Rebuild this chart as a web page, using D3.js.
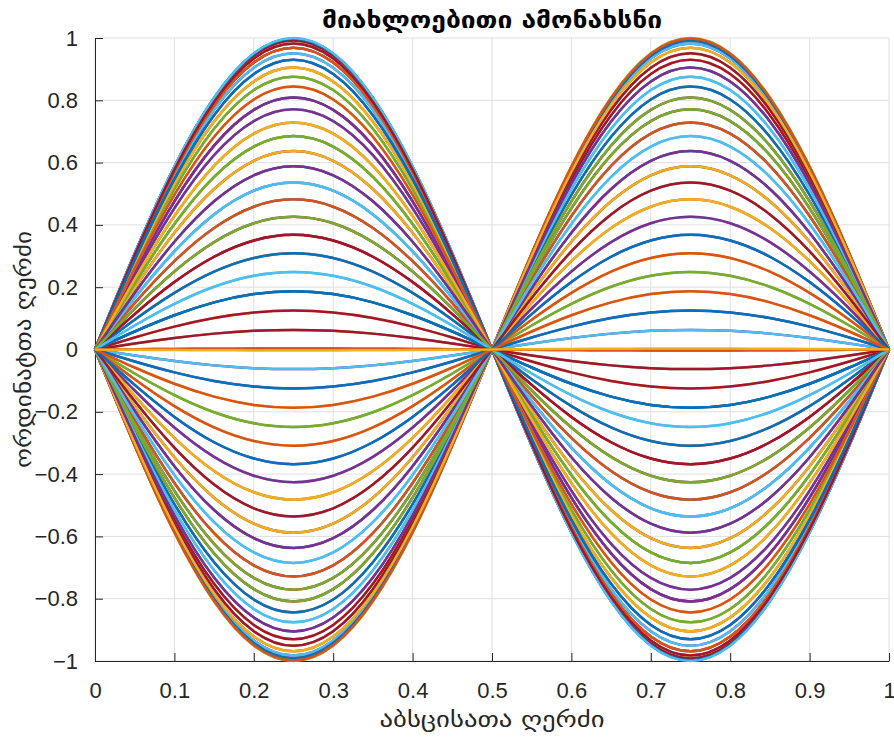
<!DOCTYPE html>
<html>
<head>
<meta charset="utf-8">
<script src="https://cdnjs.cloudflare.com/ajax/libs/d3/7.8.5/d3.min.js"></script>
<style>
    body { margin: 0; background: #fff; }
    text { font-family: "Liberation Sans", Arial, Helvetica, sans-serif; fill: #262626; }
    .geo { font-family: "DejaVu Sans", sans-serif; }
</style>
</head>
<body>
<div id="svgcontainer"></div>
<script>

var width = 894;
var height = 743;
var plot = {left: 95, right: 889, top: 38, bottom: 661};

// shape of the outermost curve, read at x = 0, 0.05, ... 1
var xGrid = [0, 0.05, 0.1, 0.15, 0.2, 0.25, 0.3, 0.35, 0.4, 0.45, 0.5,
    0.55, 0.6, 0.65, 0.7, 0.75, 0.8, 0.85, 0.9, 0.95, 1];
var profile = [0, 0.309, 0.588, 0.809, 0.951, 1, 0.951, 0.809, 0.588, 0.309, 0,
    -0.309, -0.588, -0.809, -0.951, -1, -0.951, -0.809, -0.588, -0.309, 0];

// amplitude of every line at x = 0.25, in drawing order
// (two plot calls, the colour order starts again with the second one)
var firstRunAmp = [0, 0.187, 0.368, 0.536, 0.685, 0.809, 0.905, 0.969, 0.998,
    0.992, 0.951, 0.876, 0.771, 0.637, 0.482, 0.309, 0.125,
    -0.063, -0.249, -0.426, -0.588, -0.729, -0.844, -0.930, -0.982, -1,
    -0.982, -0.930, -0.844, -0.729, -0.588, -0.426, -0.249, -0.063,
    0.125, 0.309, 0.482, 0.637, 0.771, 0.876, 0.951, 0.992,
    0.998, 0.969, 0.905, 0.809, 0.685, 0.536, 0.368, 0.187, 0.003];
var secondRunAmp = [0.998, 0.969, 0.905, 0.809, 0.685, 0.536, 0.368, 0.187, 0.003,
    -0.187, -0.368, -0.536, -0.685, -0.809, -0.905, -0.969, -0.998,
    -0.992, -0.951, -0.876, -0.771, -0.637, -0.482, -0.309, -0.125,
    0.063, 0.249, 0.426, 0.588, 0.729, 0.844, 0.930, 0.982, 1,
    0.982, 0.930, 0.844, 0.729, 0.588, 0.426, 0.249, 0.063,
    -0.125, -0.309, -0.482, -0.637, -0.771, -0.876, -0.951, -0.992,
    -0.998, -0.969, -0.905, -0.809, -0.685, -0.536, -0.368, -0.187, -0.003];

var xTicks = [0, 0.1, 0.2, 0.3, 0.4, 0.5, 0.6, 0.7, 0.8, 0.9, 1];
var yTicks = [-1, -0.8, -0.6, -0.4, -0.2, 0, 0.2, 0.4, 0.6, 0.8, 1];

var colorOrder = ["#0072BD", "#D95319", "#EDB120", "#7E2F8E", "#77AC30", "#4DBEEE", "#A2142F"];

var titleText = "მიახლოებითი ამონახსნი";
var xLabelText = "აბსცისათა ღერძი";
var yLabelText = "ორდინატთა ღერძი";

var svg = d3.select("#svgcontainer")
    .append("svg").attr("width", width).attr("height", height);

svg.append("rect")
    .attr("width", width)
    .attr("height", height)
    .attr("fill", "#fff");

var x = d3.scaleLinear().domain([0, 1]).range([plot.left, plot.right]);
var y = d3.scaleLinear().domain([-1, 1]).range([plot.bottom, plot.top]);

// tick labels like matlab: plain numbers, long minus sign
function tickText(d) {
    return String(d).replace("-", "\u2212");
}

// Grid
svg.append("g").selectAll("line")
    .data(xTicks)
    .enter().append("line")
    .attr("x1", d => x(d)).attr("x2", d => x(d))
    .attr("y1", plot.top).attr("y2", plot.bottom)
    .attr("stroke", "#dfdfdf").attr("stroke-width", 1);

svg.append("g").selectAll("line")
    .data(yTicks)
    .enter().append("line")
    .attr("x1", plot.left).attr("x2", plot.right)
    .attr("y1", d => y(d)).attr("y2", d => y(d))
    .attr("stroke", "#dfdfdf").attr("stroke-width", 1);

// Axes
var xAxis = svg.append("g")
    .attr("transform", "translate(0," + plot.bottom + ")")
    .call(d3.axisBottom(x).tickValues(xTicks).tickFormat(tickText)
        .tickSizeInner(-8).tickSizeOuter(0).tickPadding(21));

var yAxis = svg.append("g")
    .attr("transform", "translate(" + plot.left + ",0)")
    .call(d3.axisLeft(y).tickValues(yTicks).tickFormat(tickText)
        .tickSizeInner(-8).tickSizeOuter(0).tickPadding(17));

[xAxis, yAxis].forEach(function (g) {
    g.selectAll("path, line").attr("stroke", "#262626").attr("stroke-width", 1);
    g.selectAll("text")
        .attr("fill", "#262626")
        .style("font-size", "22px")
        .style("font-family", "'Liberation Sans', Arial, sans-serif");
});

// Lines
var line = d3.line()
    .x(d => x(d[0]))
    .y(d => y(d[1]))
    .curve(d3.curveNatural);

function drawRun(amps) {
    svg.append("g").selectAll("path")
        .data(amps)
        .enter().append("path")
        .attr("d", amp => line(xGrid.map((xv, i) => [xv, amp * profile[i]])))
        .attr("fill", "none")
        .attr("stroke", (amp, i) => colorOrder[i % colorOrder.length])
        .attr("stroke-width", 2.5)
        .attr("stroke-linejoin", "round");
}

drawRun(firstRunAmp);
drawRun(secondRunAmp);

// Labels
svg.append("text")
    .attr("class", "geo")
    .attr("x", (plot.left + plot.right) / 2)
    .attr("y", 28)
    .attr("text-anchor", "middle")
    .attr("textLength", 340)
    .attr("lengthAdjust", "spacingAndGlyphs")
    .style("font-size", "23px")
    .style("font-weight", "bold")
    .style("fill", "#000")
    .text(titleText);

svg.append("text")
    .attr("class", "geo")
    .attr("x", (plot.left + plot.right) / 2)
    .attr("y", 727)
    .attr("text-anchor", "middle")
    .attr("textLength", 225)
    .attr("lengthAdjust", "spacingAndGlyphs")
    .style("font-size", "22px")
    .text(xLabelText);

svg.append("text")
    .attr("class", "geo")
    .attr("transform", "translate(31," + y(0) + ") rotate(-90)")
    .attr("text-anchor", "middle")
    .attr("textLength", 237)
    .attr("lengthAdjust", "spacingAndGlyphs")
    .style("font-size", "22px")
    .text(yLabelText);

</script>
</body>
</html>
